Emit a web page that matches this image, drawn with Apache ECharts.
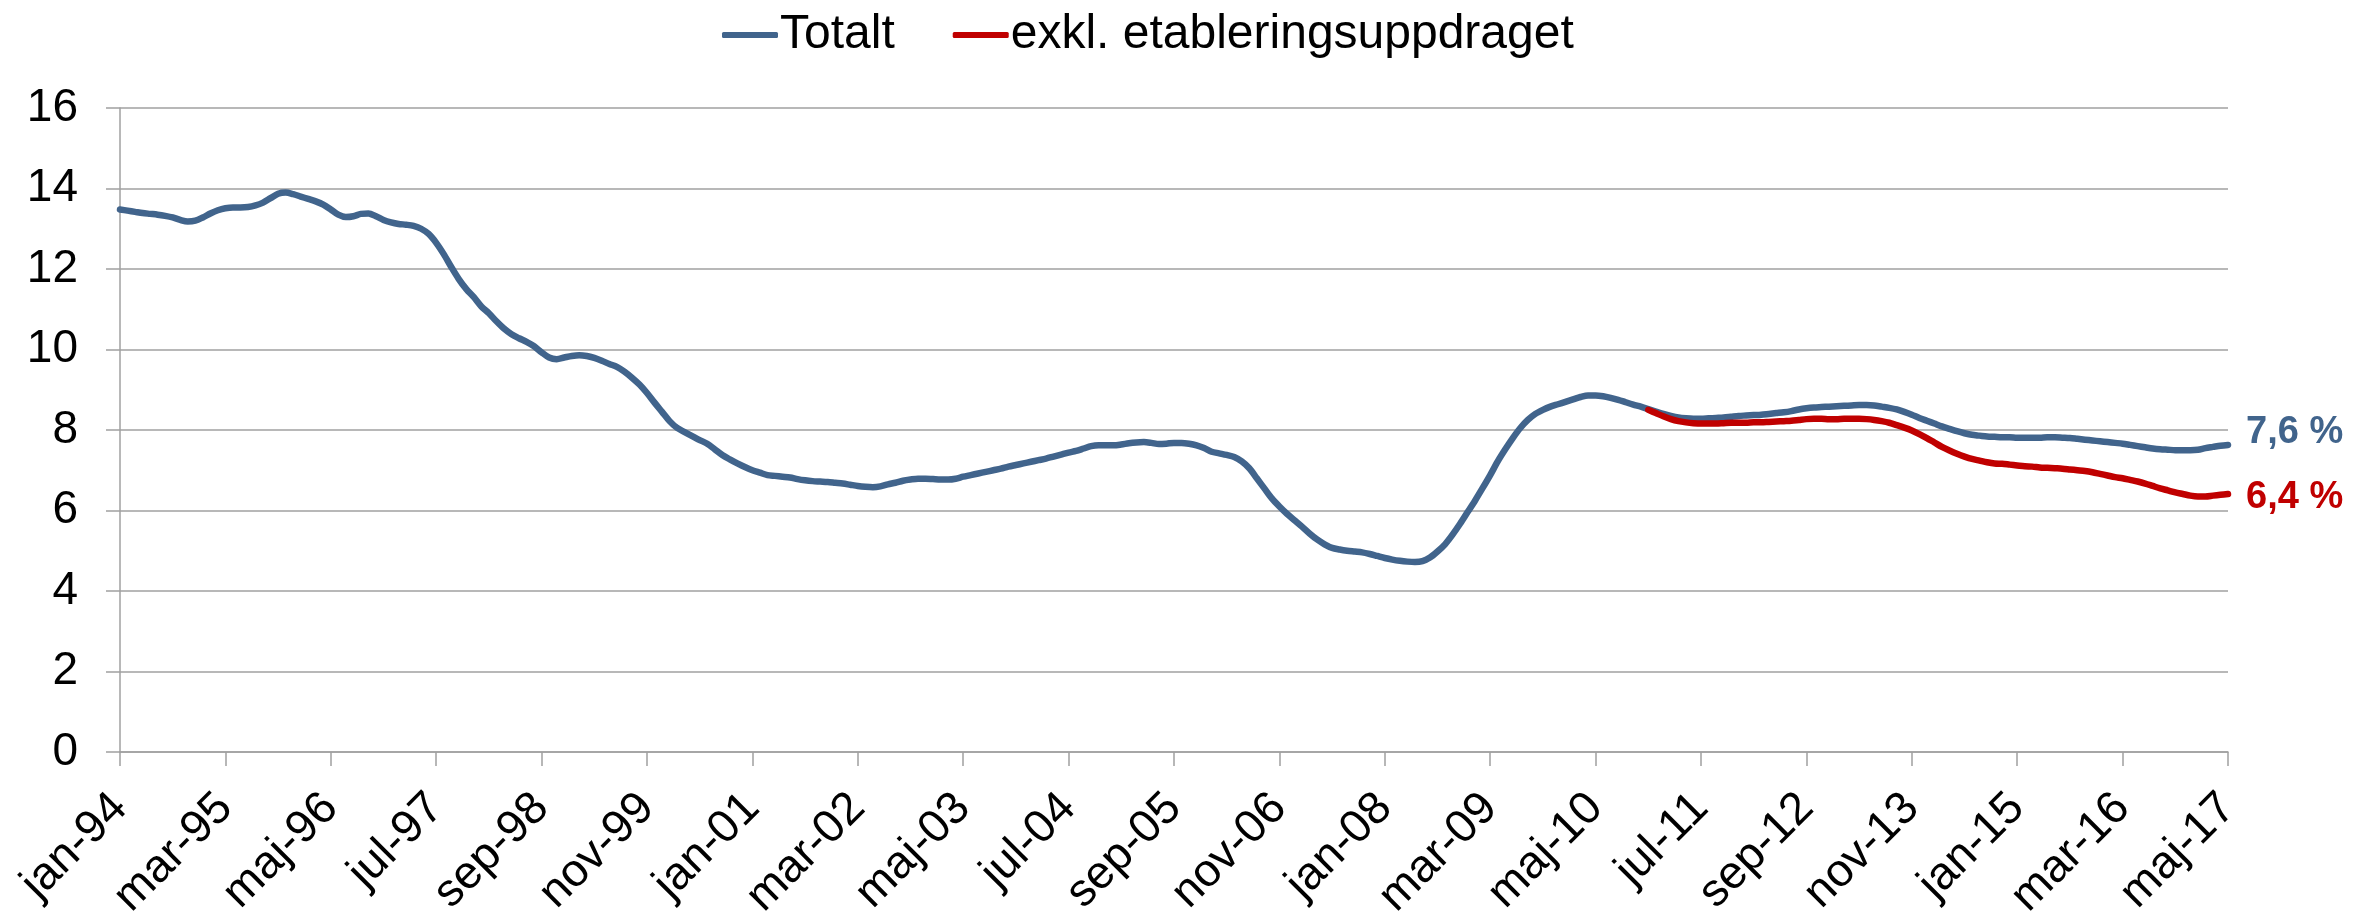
<!DOCTYPE html>
<html><head><meta charset="utf-8">
<script src="https://cdn.jsdelivr.net/npm/echarts@6/dist/echarts.min.js"></script>
<style>html,body{margin:0;padding:0;background:#fff}#c{width:2356px;height:914px}</style>
</head><body><div id="c"></div>
<script>
// Swedish month abbreviations used in the category labels
const monthNames = ['jan','feb','mar','apr','maj','jun','jul','aug','sep','okt','nov','dec'];
const firstYear = 1994;
const lastYear = 2017;
const lastMonthIndex = 4; // maj-17

const seriesNames = ['Totalt', 'exkl. etableringsuppdraget'];

// Totalt, monthly jan-94 .. maj-17
const totalt = [
  13.48,13.45,13.42,13.39,13.37,13.35,13.32,13.28,13.22,13.18,13.20,13.28, // 1994
  13.38,13.46,13.51,13.53,13.53,13.54,13.58,13.65,13.76,13.87,13.90,13.86, // 1995
  13.80,13.74,13.68,13.60,13.48,13.35,13.29,13.31,13.37,13.38,13.31,13.22, // 1996
  13.16,13.12,13.10,13.07,13.00,12.87,12.65,12.37,12.05,11.75,11.50,11.30, // 1997
  11.07,10.90,10.70,10.52,10.38,10.28,10.19,10.08,9.93,9.80,9.76,9.80,     // 1998
  9.84,9.86,9.84,9.79,9.72,9.64,9.57,9.45,9.30,9.13,8.92,8.68,             // 1999
  8.45,8.22,8.05,7.95,7.85,7.75,7.66,7.52,7.38,7.27,7.17,7.08,             // 2000
  7.00,6.94,6.88,6.86,6.84,6.82,6.78,6.75,6.73,6.72,6.71,6.69,             // 2001
  6.67,6.64,6.61,6.59,6.58,6.60,6.65,6.69,6.74,6.77,6.79,6.79,             // 2002
  6.78,6.77,6.77,6.79,6.84,6.88,6.92,6.96,7.00,7.04,7.09,7.13,             // 2003
  7.17,7.21,7.25,7.29,7.34,7.39,7.44,7.48,7.54,7.60,7.62,7.62,             // 2004
  7.62,7.64,7.67,7.69,7.70,7.68,7.65,7.66,7.68,7.68,7.66,7.62,             // 2005
  7.55,7.46,7.42,7.38,7.33,7.22,7.05,6.80,6.55,6.30,6.10,5.92,             // 2006
  5.76,5.60,5.43,5.28,5.16,5.07,5.03,5.00,4.98,4.96,4.92,4.87,             // 2007
  4.82,4.78,4.75,4.73,4.72,4.74,4.83,4.98,5.16,5.40,5.67,5.96,             // 2008
  6.25,6.56,6.88,7.22,7.52,7.80,8.05,8.25,8.40,8.50,8.58,8.64,             // 2009
  8.70,8.76,8.82,8.86,8.86,8.84,8.80,8.75,8.69,8.63,8.58,8.52,             // 2010
  8.46,8.40,8.35,8.31,8.29,8.28,8.28,8.29,8.30,8.31,8.33,8.35,             // 2011
  8.36,8.37,8.38,8.40,8.42,8.44,8.47,8.51,8.54,8.56,8.57,8.58,             // 2012
  8.59,8.60,8.61,8.62,8.62,8.61,8.58,8.55,8.51,8.45,8.38,8.30,             // 2013
  8.23,8.16,8.09,8.03,7.97,7.92,7.88,7.86,7.84,7.83,7.82,7.82,             // 2014
  7.81,7.81,7.81,7.81,7.82,7.82,7.81,7.80,7.78,7.76,7.74,7.72,             // 2015
  7.70,7.68,7.66,7.63,7.60,7.57,7.54,7.52,7.51,7.50,7.50,7.50,             // 2016
  7.51,7.55,7.58,7.61,7.63                                                 // 2017
];

// exkl. etableringsuppdraget, monthly dec-10 .. maj-17
const exklStart = 'dec-10';
const exkl = [
  8.50,                                                                     // dec 2010
  8.42,8.34,8.27,8.22,8.19,8.17,8.16,8.16,8.16,8.17,8.18,8.18,             // 2011
  8.18,8.19,8.19,8.20,8.21,8.22,8.23,8.25,8.27,8.28,8.28,8.27,             // 2012
  8.27,8.28,8.28,8.28,8.27,8.25,8.22,8.18,8.12,8.06,7.99,7.90,             // 2013
  7.80,7.69,7.58,7.49,7.41,7.34,7.28,7.24,7.20,7.17,7.16,7.14,             // 2014
  7.12,7.10,7.09,7.07,7.06,7.05,7.04,7.02,7.00,6.98,6.95,6.91,             // 2015
  6.87,6.83,6.80,6.76,6.72,6.67,6.61,6.55,6.50,6.45,6.41,6.37,             // 2016
  6.35,6.35,6.37,6.39,6.41                                                 // 2017
];

const yTicks = [0, 2, 4, 6, 8, 10, 12, 14, 16];

// build category labels
const categories = [];
for (let y = firstYear; y <= lastYear; y++) {
  for (let m = 0; m < 12; m++) {
    if (y === lastYear && m > lastMonthIndex) break;
    categories.push(monthNames[m] + '-' + String(y).slice(2));
  }
}
const startIdx = categories.indexOf(exklStart);
const exklData = categories.map((c, i) => i < startIdx ? null : exkl[i - startIdx]);

const BLUE = '#41648C', RED = '#C00000';
const FONT = '"Liberation Sans", Arial, sans-serif';
const fmt = p => (Math.round(p.value * 10) / 10).toFixed(1).replace('.', ',') + ' %';

const chart = echarts.init(document.getElementById('c'), null, {renderer: 'canvas'});
chart.setOption({
  animation: false,
  backgroundColor: '#ffffff',
  textStyle: {fontFamily: FONT},
  legend: {
    data: seriesNames,
    left: 717, top: 6,
    icon: 'roundRect',
    itemWidth: 56, itemHeight: 6,
    itemGap: 58,
    textStyle: {fontSize: 48, color: '#000', fontFamily: FONT, padding: [0, 0, 0, -3]}
  },
  grid: {left: 120, right: 128, top: 108, bottom: 162, containLabel: false, outerBoundsMode: 'none'},
  xAxis: {
    type: 'category',
    data: categories,
    boundaryGap: false,
    axisLine: {show: true, lineStyle: {color: '#A0A0A0', width: 1.5}},
    axisTick: {show: true, interval: 13, length: 14, lineStyle: {color: '#A0A0A0', width: 1.5}},
    axisLabel: {interval: 13, rotate: 45, margin: 49, fontSize: 46, color: '#000', fontFamily: FONT},
    splitLine: {show: false}
  },
  yAxis: {
    type: 'value',
    min: yTicks[0], max: yTicks[yTicks.length - 1], interval: 2,
    axisLine: {show: true, lineStyle: {color: '#A0A0A0', width: 1.5}},
    axisTick: {show: true, length: 14, lineStyle: {color: '#A0A0A0', width: 1.5}},
    axisLabel: {margin: 42, fontSize: 46, color: '#000', fontFamily: FONT},
    splitLine: {show: true, lineStyle: {color: '#A0A0A0', width: 1.5}}
  },
  series: [
    {
      name: seriesNames[0], type: 'line', data: totalt,
      showSymbol: false, smooth: 0.3,
      lineStyle: {color: BLUE, width: 6.5, cap: 'round', join: 'round'},
      itemStyle: {color: BLUE},
      endLabel: {show: true, formatter: fmt, distance: 18, offset: [0, -12],
        fontSize: 38, fontWeight: 'bold', color: BLUE, fontFamily: FONT}
    },
    {
      name: seriesNames[1], type: 'line', data: exklData,
      showSymbol: false, smooth: 0.3, connectNulls: false,
      lineStyle: {color: RED, width: 6.5, cap: 'round', join: 'round'},
      itemStyle: {color: RED},
      endLabel: {show: true, formatter: fmt, distance: 18, offset: [0, 4],
        fontSize: 38, fontWeight: 'bold', color: RED, fontFamily: FONT}
    }
  ]
});
</script>
</body></html>
